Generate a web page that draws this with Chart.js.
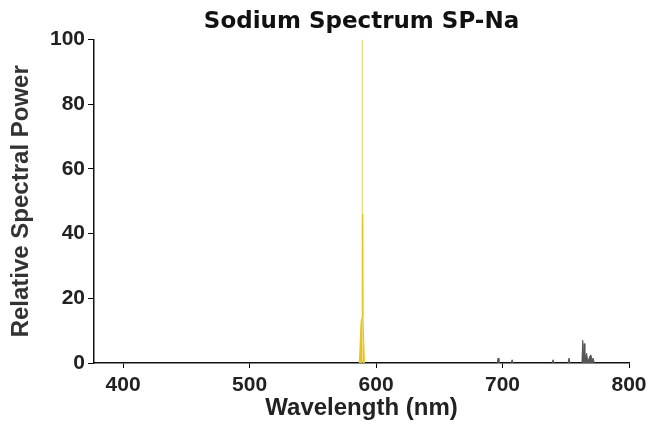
<!DOCTYPE html>
<html>
<head>
<meta charset="utf-8">
<script src="https://cdn.jsdelivr.net/npm/chart.js@4"></script>
<style>
  html, body { margin: 0; padding: 0; background: #fff; }
  #wrap { width: 664px; height: 424px; }
</style>
</head>
<body>
<div id="wrap"><canvas id="c"></canvas></div>
<script>
// spectrum (nm, relative power)
const wavelengths = [377, 586.8, 588.2, 588.9, 589.0, 589.1, 589.35, 589.55, 589.75, 590.8,
  695.8, 696.5, 697.2, 706.8, 707.6, 708.4, 739.2, 740.0, 740.8, 751.8, 752.6, 753.4,
  762.8, 763.4, 763.9, 764.5, 765.1, 766.0, 766.5, 767.0, 767.8, 768.8, 769.9, 770.6, 771.6, 772.6, 800];
const power = [0, 0, 13, 14, 100, 14, 15, 46, 13, 0,
  0, 1.5, 0, 0, 1, 0, 0, 1, 0, 0, 1.5, 0,
  0, 7, 1, 6, 1, 2.5, 3, 1.5, 0.5, 2, 2.5, 1, 1.5, 0, 0];
const xTicks = [400, 500, 600, 700, 800];
const yTicks = [0, 20, 40, 60, 80, 100];

const SODIUM = '#e6c31c';
const SODIUM_PEAK = '#f0e27a';
const OTHER = '#555555';
const FONT = 'Liberation Sans';

const points = wavelengths.map((w, i) => ({ x: w, y: power[i] }));
const segColor = (ctx) => {
  const a = ctx.p0.parsed, b = ctx.p1.parsed;
  if (a.y === 0 && b.y === 0) return 'rgba(0,0,0,0)';
  if (a.x > 650) return OTHER;
  return Math.max(a.y, b.y) > 50 ? SODIUM_PEAK : SODIUM;
};

new Chart(document.getElementById('c'), {
  type: 'line',
  data: {
    datasets: [{
      label: 'SP-Na',
      data: points,
      borderWidth: 1,
      pointRadius: 0,
      tension: 0,
      fill: 'origin',
      borderColor: SODIUM,
      backgroundColor: SODIUM,
      segment: {
        borderColor: segColor,
        backgroundColor: segColor
      }
    }]
  },
  options: {
    responsive: true,
    maintainAspectRatio: false,
    animation: false,
    layout: { padding: { left: 4, right: 35, bottom: 0 } },
    plugins: {
      legend: { display: false },
      tooltip: { enabled: false },
      title: {
        display: true,
        text: 'Sodium Spectrum SP-Na',
        fullSize: false,
        color: '#111',
        font: { family: 'DejaVu Sans', size: 23, weight: 'bold' },
        padding: { top: 8, bottom: 4 }
      }
    },
    scales: {
      x: {
        type: 'linear',
        min: 377,
        max: 800,
        z: 1,
        afterBuildTicks: (s) => { s.ticks = xTicks.map(v => ({ value: v })); },
        afterFit: (s) => { s.height = 61; },
        grid: { drawOnChartArea: false, drawTicks: true, tickLength: 5, color: '#000' },
        border: { color: '#111', width: 1.5 },
        ticks: {
          color: '#222',
          font: { family: FONT, size: 21, weight: 'bold' },
          padding: 5,
          maxRotation: 0
        },
        title: {
          display: true,
          text: 'Wavelength (nm)',
          color: '#222',
          font: { family: FONT, size: 24, weight: 'bold' },
          padding: { top: 1, bottom: 1 }
        }
      },
      y: {
        min: 0,
        max: 100,
        z: 1,
        afterBuildTicks: (s) => { s.ticks = yTicks.map(v => ({ value: v })); },
        afterFit: (s) => { s.width = 90; },
        grid: { drawOnChartArea: false, drawTicks: true, tickLength: 6, color: '#000' },
        border: { color: '#111', width: 1.5 },
        ticks: {
          color: '#222',
          font: { family: FONT, size: 21, weight: 'bold' },
          padding: 3
        },
        title: {
          display: true,
          text: 'Relative Spectral Power',
          color: '#333',
          font: { family: FONT, size: 24, weight: 'bold' },
          padding: { top: 3, bottom: 0 }
        }
      }
    }
  }
});
</script>
</body>
</html>
